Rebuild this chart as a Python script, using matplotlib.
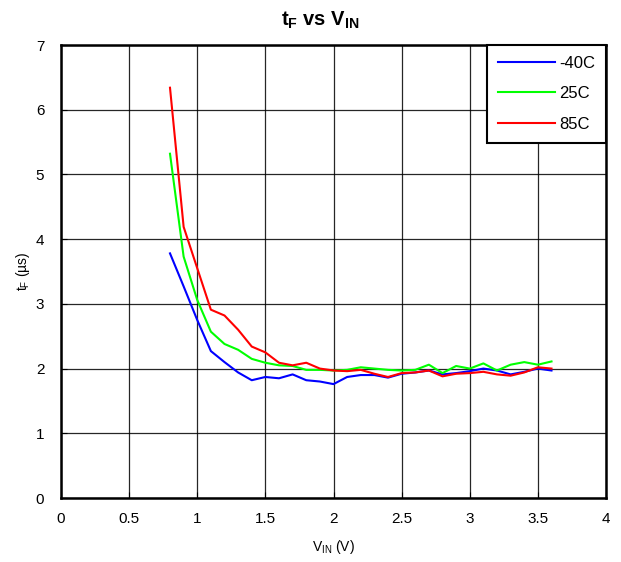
import numpy as np
import matplotlib
matplotlib.use("Agg")
import matplotlib.pyplot as plt

plt.rcParams['font.family'] = ['Liberation Sans', 'DejaVu Sans']
plt.rcParams['mathtext.fontset'] = 'custom'
plt.rcParams['mathtext.rm'] = 'Liberation Sans'
plt.rcParams['mathtext.it'] = 'Liberation Sans'
plt.rcParams['mathtext.bf'] = 'Liberation Sans:bold'

vin = [0.8, 0.9, 1.0, 1.1, 1.2, 1.3, 1.4, 1.5, 1.6, 1.7, 1.8, 1.9, 2.0, 2.1, 2.2,
       2.3, 2.4, 2.5, 2.6, 2.7, 2.8, 2.9, 3.0, 3.1, 3.2, 3.3, 3.4, 3.5, 3.6]

tf_m40 = [3.78, 3.27, 2.75, 2.27, 2.10, 1.94, 1.82, 1.87, 1.85, 1.91, 1.82, 1.80, 1.76,
          1.87, 1.90, 1.90, 1.86, 1.92, 1.94, 1.97, 1.91, 1.93, 1.96, 2.00, 1.97,
          1.91, 1.95, 2.00, 1.97]
tf_25 = [5.32, 3.73, 3.06, 2.57, 2.38, 2.29, 2.15, 2.09, 2.05, 2.04, 1.98, 1.98, 1.97,
         1.98, 2.02, 2.00, 1.98, 1.97, 1.98, 2.06, 1.93, 2.04, 2.00, 2.08, 1.97,
         2.06, 2.10, 2.06, 2.11]
tf_85 = [6.34, 4.19, 3.55, 2.91, 2.82, 2.60, 2.34, 2.25, 2.09, 2.05, 2.09, 2.00, 1.97,
         1.96, 1.98, 1.92, 1.87, 1.93, 1.94, 1.97, 1.88, 1.92, 1.93, 1.95, 1.91,
         1.89, 1.94, 2.02, 2.00]

labels = ['-40C', '25C', '85C']
colors = ['#0000ff', '#00ff00', '#ff0000']
xtick_labels = ['0', '0.5', '1', '1.5', '2', '2.5', '3', '3.5', '4']

fig = plt.figure(figsize=(6.21, 5.62), dpi=100)
ax = fig.add_axes([61/621, 1 - 498/562, (606 - 61)/621, (498 - 45)/562])

for y, lab, c in zip([tf_m40, tf_25, tf_85], labels, colors):
    ax.plot(vin, y, color=c, lw=1.5, label=lab)

ax.set_xlim(0, 4)
ax.set_ylim(0, 7)
ax.set_xticks(np.arange(0, 4.01, 0.5))
ax.set_xticklabels(xtick_labels)
ax.set_yticks(range(0, 8))
ax.grid(True, color='black', lw=0.9, alpha=0.85)
ax.set_axisbelow(True)
for s in ax.spines.values():
    s.set_linewidth(1.8)
    s.set_color('black')
ax.tick_params(direction='in', length=4, labelsize=11, colors='black')
ax.tick_params(axis='x', pad=10)
ax.tick_params(axis='y', pad=12)

fig.text(320/621, 1 - 20/562, r'$\mathbf{t_F}$ vs $\mathbf{V_{IN}}$', fontsize=14.5,
         fontweight='bold', ha='center', va='center')
ax.set_xlabel(r'V$_{\mathregular{IN}}$ (V)', fontsize=10, labelpad=9)
ax.set_ylabel(r't$_{\mathregular{F}}$ (µs)', fontsize=10, labelpad=3)

leg = ax.legend(loc='upper right', fontsize=12, handlelength=3.4, borderaxespad=0,
                frameon=True, fancybox=False, framealpha=1, edgecolor='black',
                labelspacing=0.92, borderpad=0.66, handletextpad=0.25)
leg.get_frame().set_linewidth(1.5)

fig.savefig('out.png', dpi=100)
